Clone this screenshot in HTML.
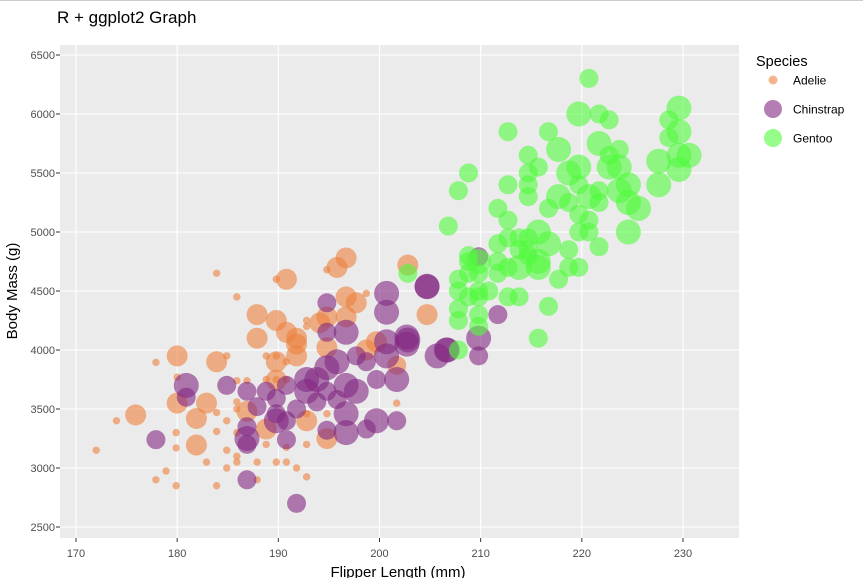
<!DOCTYPE html>
<html><head><meta charset="utf-8"><style>
body{margin:0;background:#fff;width:863px;height:578px;overflow:hidden;font-family:"Liberation Sans","DejaVu Sans",sans-serif}
</style></head><body>
<svg id="chart" width="863" height="578" xmlns="http://www.w3.org/2000/svg" font-family="Liberation Sans, DejaVu Sans, sans-serif">
<line x1="0" y1="0.5" x2="863" y2="0.5" stroke="#ccc"/>
<text x="57" y="23" font-size="17" fill="#000">R + ggplot2 Graph</text>
<rect x="60" y="45" width="679" height="493" fill="#ebebeb"/>
<g id="grid"></g>
<g id="axes" font-size="11" fill="#4d4d4d"></g>
<g id="points"></g>
<text x="398" y="577" text-anchor="middle" font-size="15" fill="#000">Flipper Length (mm)</text>
<text transform="translate(17,291) rotate(-90)" text-anchor="middle" font-size="15" fill="#000">Body Mass (g)</text>
<g>
<text x="756" y="66" font-size="14.5" fill="#000">Species</text>
<g><circle cx="773" cy="80" r="4.5" fill="rgb(237,128,60)" fill-opacity="0.6"/><text x="793" y="84.5" font-size="12" fill="#000">Adelie</text></g>
<g><circle cx="773" cy="109" r="9" fill="rgb(130,40,130)" fill-opacity="0.6"/><text x="793" y="113.5" font-size="12" fill="#000">Chinstrap</text></g>
<g><circle cx="773" cy="138" r="9" fill="rgb(80,250,60)" fill-opacity="0.6"/><text x="793" y="142.5" font-size="12" fill="#000">Gentoo</text></g>
</g>
</svg>
<script>
const xTicks=[170,180,190,200,210,220,230];
const yTicks=[2500,3000,3500,4000,4500,5000,5500,6000,6500];
const adelieFlipper=[183.9,190.8,185.9,187.9,189.8,187.9,190.8,191.8,191.8,191.8,196.7,195.8,196.7,197.7,194.8,196.7,194.1,194.8,202.8,204.7,180,183.9,189.8,180,182.9,181.9,186.9,188.8,192.8,194.8,175.9,181.9,189.8,198.7,199.7,201.7,
172,174,177.9,177.9,178.9,179.9,179.9,179.9,180,182.9,183.9,183.9,183.9,184.9,184.9,184.9,184.9,185.9,185.9,185.9,185.9,185.9,185.9,186.9,187.9,187.9,188.8,188.8,188.8,189.8,189.8,189.8,190.8,190.8,190.8,190.8,191.8,192.8,192.8,192.8,192.8,189.8,194.8,198.7,201.7,192.8,194.8];
const adelieMass=[4650,4600,4450,4300,4250,4100,4150,4100,4050,3950,4780,4700,4450,4400,4280,4280,4230,4020,4720,4300,3950,3900,3900,3550,3550,3420,3480,3330,3400,3250,3450,3195,3745,4000,4070,3870,
3150,3400,3895,2900,2975,2850,3300,3170,3770,3050,2850,3310,3470,3950,3400,3150,3000,3740,3560,3500,3300,3100,3050,3740,3050,2900,3950,3750,3200,3950,3750,3050,3900,3750,3050,3175,3000,2925,3200,4250,4200,4600,4680,4480,3550,3460,3460];
const adelieSize=[1,3,1,3,3,3,3,3,3,3,3,3,3,3,3,3,3,3,3,3,3,3,3,3,3,3,3,3,3,3,3,3,3,3,3,2,
1,1,1,1,1,1,1,1,1,1,1,1,1,1,1,1,1,1,1,1,1,1,1,1,1,1,1,1,1,1,1,1,1,1,1,1,1,1,1,1,1,1,1,1,1,1,1];
const chinFlipper=[180.9,180.9,184.9,177.9,186.9,186.9,186.9,186.9,186.9,187.9,188.8,189.8,189.8,189.8,190.8,190.8,190.8,191.8,191.8,192.8,192.8,193.8,193.8,194.8,194.8,194.8,194.8,194.8,195.8,196.7,196.7,196.7,196.7,197.7,197.7,198.7,198.7,199.7,199.7,200.7,200.7,200.7,200.7,201.7,201.7,202.7,202.7,204.7,205.7,206.7,195.8,204.7,202.8,206.6,209.8,211.7,209.8,209.8];
const chinMass=[3700,3600,3700,3240,3650,3350,3250,3200,2900,3520,3650,3590,3460,3400,3400,3240,3700,3500,2700,3750,3650,3750,3560,4400,4150,3850,3650,3320,3900,4150,3700,3460,3300,3650,3950,3900,3330,3750,3400,4480,4320,4070,3950,3750,3400,4110,4050,4540,3950,4000,3580,4536,4085,4000,4790,4300,4100,3950];
const chinSize=[3,2,2,2,2,2,3,2,2,2,2,2,2,3,2,2,2,2,2,3,3,3,2,2,2,3,2,2,3,3,3,3,3,3,2,2,2,2,3,3,3,3,3,3,2,3,3,3,3,3,2,3,3,3,2,2,3,2];
const gentooFlipper=[220.7,219.7,221.7,222.7,229.6,228.6,229.6,228.6,229.6,230.6,229.6,227.6,227.6,223.7,222.7,221.7,219.7,218.7,217.7,216.7,212.7,208.8,207.8,206.8,214.7,215.7,214.7,214.7,214.7,212.7,211.7,212.7,216.7,217.7,218.7,219.7,220.7,221.7,221.7,222.7,223.7,223.7,224.6,224.6,225.6,224.6,219.7,219.7,220.7,220.7,218.7,221.7,219.7,218.7,217.7,216.7,215.7,216.7,215.7,214.7,214.7,214.7,213.8,213.8,213.8,215.7,215.7,212.7,212.7,212.7,211.7,211.7,211.7,213.8,210.8,209.8,209.8,209.8,209.8,209.8,209.8,208.8,208.8,208.8,208.8,207.8,207.8,207.8,207.8,207.8,202.8];
const gentooMass=[6302,6000,6000,5950,6050,5950,5850,5800,5650,5650,5530,5600,5400,5700,5650,5750,5550,5500,5700,5850,5850,5500,5350,5050,5650,5550,5500,5400,5300,5400,5200,5100,5200,5300,5250,5400,5300,5350,5250,5550,5550,5350,5400,5250,5200,5000,5150,5000,5100,5000,4850,4875,4700,4700,4600,4370,4100,4900,5000,4950,4850,4800,4950,4850,4700,4750,4700,4950,4700,4450,4900,4750,4650,4450,4500,4750,4650,4500,4450,4300,4200,4800,4750,4650,4450,4600,4500,4350,4250,4000,4650];
const gentooSize=[2,3,2,2,3,2,3,2,3,3,3,3,3,2,2,3,3,3,3,2,2,2,2,2,2,2,2,2,2,2,2,2,2,3,2,2,3,2,2,3,3,3,3,3,3,3,2,2,2,2,2,2,2,2,2,2,2,3,3,2,2,2,2,2,3,3,3,2,2,2,2,2,2,2,2,3,2,2,2,2,2,2,2,2,2,2,2,2,2,2,2];

const NS="http://www.w3.org/2000/svg";
const X0=60,X1=739,Y0=45,Y1=538;
function xs(v){return 76+(v-170)*(683-76)/60;}
function ys(v){return 527-(v-2500)*(527-55)/4000;}
function rs(s,big){return s===1?3.7:(s===2?9.5:big);}
const grid=document.getElementById('grid'),axes=document.getElementById('axes'),pts=document.getElementById('points');
xTicks.forEach(t=>{
  const l=document.createElementNS(NS,'line');
  l.setAttribute('x1',xs(t));l.setAttribute('x2',xs(t));l.setAttribute('y1',Y0);l.setAttribute('y2',Y1);
  l.setAttribute('stroke','#fff');l.setAttribute('stroke-width','1.1');
  
  
  grid.appendChild(l);
  const tk=document.createElementNS(NS,'line');
  tk.setAttribute('x1',xs(t));tk.setAttribute('x2',xs(t));tk.setAttribute('y1',Y1);tk.setAttribute('y2',Y1+4);tk.setAttribute('stroke','#333');
  
  
  axes.appendChild(tk);
  const tx=document.createElementNS(NS,'text');
  tx.setAttribute('x',xs(t));tx.setAttribute('y',557);tx.setAttribute('text-anchor','middle');tx.textContent=t;
  
  
  axes.appendChild(tx);
});
yTicks.forEach(t=>{
  const l=document.createElementNS(NS,'line');
  l.setAttribute('x1',X0);l.setAttribute('x2',X1);l.setAttribute('y1',ys(t));l.setAttribute('y2',ys(t));
  l.setAttribute('stroke','#fff');l.setAttribute('stroke-width','1.1');
  
  
  grid.appendChild(l);
  const tk=document.createElementNS(NS,'line');
  tk.setAttribute('x1',X0-4);tk.setAttribute('x2',X0);tk.setAttribute('y1',ys(t));tk.setAttribute('y2',ys(t));tk.setAttribute('stroke','#333');
  
  
  axes.appendChild(tk);
  const tx=document.createElementNS(NS,'text');
  tx.setAttribute('x',X0-5);tx.setAttribute('y',ys(t)+4);tx.setAttribute('text-anchor','end');tx.textContent=t;
  
  
  axes.appendChild(tx);
});
function draw(fl,ms,sz,color,name,big){
  fl.forEach((f,i)=>{
    const c=document.createElementNS(NS,'circle');
    c.setAttribute('cx',xs(f));c.setAttribute('cy',ys(ms[i]));c.setAttribute('r',rs(sz[i],big));
    c.setAttribute('fill',color);c.setAttribute('fill-opacity','0.6');
    
    
    pts.appendChild(c);
  });
}
draw(adelieFlipper,adelieMass,adelieSize,'rgb(237,128,60)','point-adelie',10.5);
draw(chinFlipper,chinMass,chinSize,'rgb(130,40,130)','point-chinstrap',12.5);
draw(gentooFlipper,gentooMass,gentooSize,'rgb(80,250,60)','point-gentoo',12.5);
</script>
</body></html>
